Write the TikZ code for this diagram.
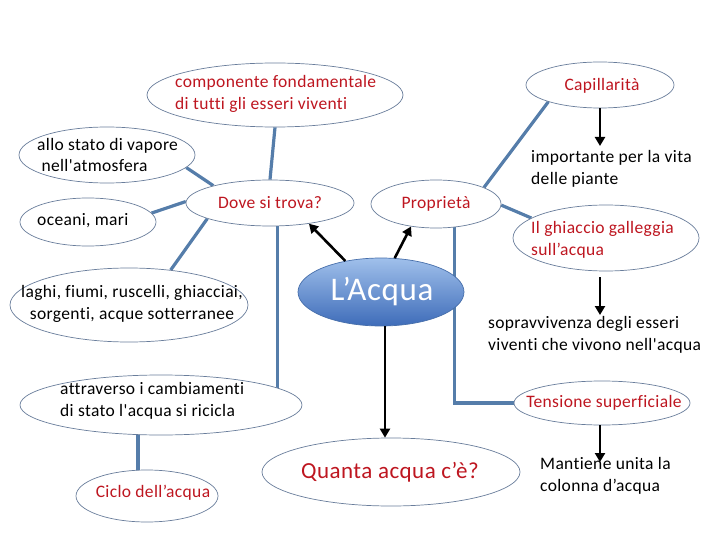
\documentclass[tikz,border=0pt]{standalone}
\usepackage{fontspec}
\setmainfont{Carlito}[Ligatures={TeXOff,NoCommon}, LetterSpace=2]
\usetikzlibrary{shapes.geometric,arrows.meta,backgrounds}
\definecolor{redtxt}{RGB}{190,22,32}
\definecolor{conn}{RGB}{85,125,170}
\definecolor{edgec}{RGB}{105,125,155}
\tikzset{
  oval/.style={ellipse, draw=edgec, line width=0.7pt, fill=white, inner sep=0pt},
  txt/.style={inner sep=0pt, align=left, font=\fontsize{17.5}{21.5}\selectfont},
  rtxt/.style={txt, text=redtxt},
  link/.style={draw=conn, line width=3.2pt},
  arr/.style={draw=black, line width=2.6pt, -{Triangle[length=9pt,width=10pt]}}
}
\begin{document}
\begin{tikzpicture}[x=1pt,y=-1pt]
\useasboundingbox (0,0) rectangle (720,540);
% ellipses
\node[oval, minimum width=256pt, minimum height=64pt] (comp) at (275,95) {};
\node[oval, minimum width=148pt, minimum height=46pt] (cap) at (600,85) {};
\node[oval, minimum width=186pt, minimum height=66pt] (ghi) at (606,238) {};
\node[oval, minimum width=176pt, minimum height=44pt] (tens) at (602,403) {};
\node[oval, minimum width=130pt, minimum height=48pt] (prop) at (436,204) {};
\node[oval, minimum width=168pt, minimum height=46pt] (dove) at (270,203) {};
\node[oval, minimum width=176pt, minimum height=56pt] (vap) at (107,155) {};
\node[oval, minimum width=136pt, minimum height=48pt] (oce) at (88,222) {};
\node[oval, minimum width=238pt, minimum height=74pt] (lag) at (129,305) {};
\node[ellipse, draw={rgb,255:red,70;green,110;blue,170}, line width=0.7pt,
      top color={rgb,255:red,160;green,192;blue,235},
      bottom color={rgb,255:red,62;green,108;blue,185},
      minimum width=166pt, minimum height=68pt, inner sep=0pt] (acqua) at (381,292) {};
\node[oval, minimum width=282pt, minimum height=60pt] (attr) at (161,405) {};
\node[oval, minimum width=142pt, minimum height=52pt] (ciclo) at (147,496) {};
\node[oval, minimum width=258pt, minimum height=68pt] (quanta) at (391,472) {};
% texts
\node[rtxt, anchor=west] (compT) at (175,94) {componente fondamentale\\di tutti gli esseri viventi};
\node[rtxt] (capT) at (602,86) {Capillarità};
\node[txt, anchor=west] (impT) at (531,169) {importante per la vita\\delle piante};
\node[rtxt, anchor=west] (ghiT) at (531,240) {Il ghiaccio galleggia\\sull’acqua};
\node[txt, anchor=west] (sopT) at (488,335) {sopravvivenza degli esseri\\viventi che vivono nell'acqua};
\node[rtxt] (tensT) at (604,403) {Tensione superficiale};
\node[txt, anchor=west] (manT) at (540,476) {Mantiene unita la\\colonna d’acqua};
\node[rtxt] (propT) at (436,204) {Proprietà};
\node[rtxt] (doveT) at (270,203) {Dove si trova?};
\node[txt, anchor=west] (vapT) at (37,155) {allo stato di vapore\\\ nell'atmosfera};
\node[txt, anchor=west] (oceT) at (37,221) {oceani, mari};
\node[txt, align=center] (lagT) at (132,304) {laghi, fiumi, ruscelli, ghiacciai,\\sorgenti, acque sotterranee};
\node[inner sep=0pt, text=white, font=\fontsize{33}{38}\selectfont] (acquaT) at (382,292) {L’Acqua};
\node[txt, anchor=west] (attrT) at (60,401) {attraverso i cambiamenti\\di stato l'acqua si ricicla};
\node[rtxt] (cicloT) at (153,493) {Ciclo dell’acqua};
\node[inner sep=0pt, text=redtxt, font=\fontsize{23}{27}\selectfont] (quantaT) at (390,472) {Quanta acqua c’è?};
% free arrow ends
\coordinate (impTop) at (600,146);
\coordinate (sopTop) at (600,315);
\coordinate (manTop) at (600,462);
% connectors
\begin{scope}[on background layer]
\draw[link] (dove.north) -- (comp.south);
\draw[link] (dove.163) -- (vap.-9);
\draw[link] (dove.179) -- (oce.8);
\draw[link] (dove.194) -- (lag.40);
\draw[link] (dove.-73) -- (dove.-73 |- attr.center);
\draw[link] ([xshift=-9pt]ciclo.center) -- ([xshift=-9pt]ciclo.center |- attr.center);
\draw[link] (prop.19) -- (cap.198);
\draw[link] (prop.-1) -- (ghi.165);
\draw[link] (prop.-52) |- (tens.west);
\end{scope}
\draw[arr] (acqua.139) -- (dove.-28);
\draw[arr] (acqua.68) -- (prop.222);
\draw[arr] ([xshift=4pt]acqua.south) -- ([xshift=4pt]acqua.south |- quanta.north);
\draw[arr] (cap.south) -- (impTop);
\draw[arr] ([xshift=-6pt]ghi.south) ++(0,6) -- (sopTop);
\draw[arr] ([xshift=-2pt]tens.south) -- (manTop);
\end{tikzpicture}
\end{document}
